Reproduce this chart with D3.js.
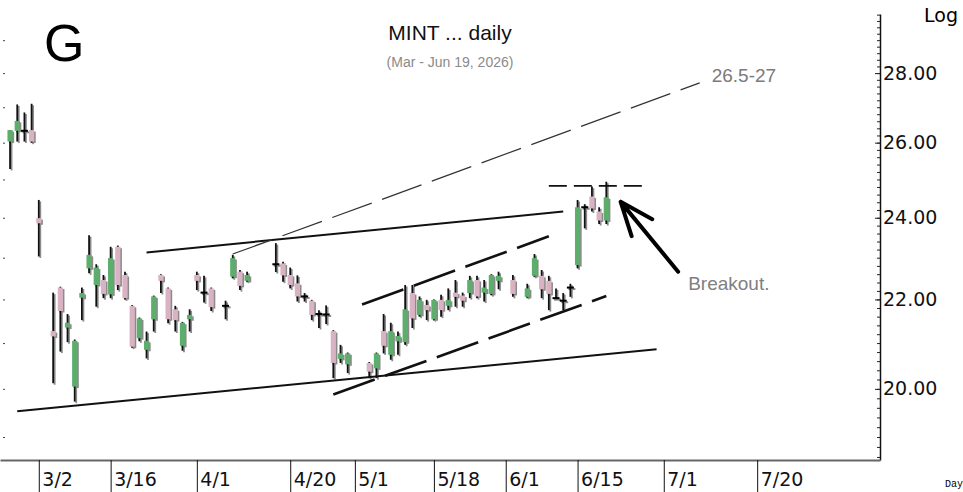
<!DOCTYPE html>
<html>
<head>
<meta charset="utf-8">
<script src="https://cdn.jsdelivr.net/npm/d3@7"></script>
<style>
  body { margin: 0; background: #fff; }
  svg { display: block; }
</style>
</head>
<body>
<div id="chart"></div>
<script>
// Daily bars (weekdays only, some days have no bar)
const dates = [
  "2026-02-24", "2026-02-25", "2026-02-26", "2026-02-27", "2026-03-02", "2026-03-04", "2026-03-05", "2026-03-06",
  "2026-03-09", "2026-03-10", "2026-03-11", "2026-03-12", "2026-03-13", "2026-03-16", "2026-03-17", "2026-03-18",
  "2026-03-19", "2026-03-20", "2026-03-23", "2026-03-24", "2026-03-25", "2026-03-26", "2026-03-27", "2026-03-30",
  "2026-03-31", "2026-04-01", "2026-04-02", "2026-04-03", "2026-04-07", "2026-04-08", "2026-04-09", "2026-04-10",
  "2026-04-16", "2026-04-17", "2026-04-20", "2026-04-21", "2026-04-22", "2026-04-23", "2026-04-24", "2026-04-27",
  "2026-04-28", "2026-04-29", "2026-04-30", "2026-05-05", "2026-05-06", "2026-05-07", "2026-05-08", "2026-05-11",
  "2026-05-12", "2026-05-13", "2026-05-14", "2026-05-15", "2026-05-18", "2026-05-19", "2026-05-20", "2026-05-21",
  "2026-05-22", "2026-05-25", "2026-05-26", "2026-05-27", "2026-05-28", "2026-05-29", "2026-06-02", "2026-06-04",
  "2026-06-05", "2026-06-08", "2026-06-09", "2026-06-10", "2026-06-11", "2026-06-12", "2026-06-15", "2026-06-16",
  "2026-06-17", "2026-06-18", "2026-06-19"
];
const opens = [
  26.03, 26.33, 26.34, 26.35, 23.99, 21.27, 22.28, 21.35,
  20.05, 22.04, 22.74, 22.34, 22.46, 22.12, 23.27, 22.58,
  21.85, 21.11, 20.85, 21.54, 22.58, 22.26, 21.77, 20.94,
  21.54, 22.58, 22.17, 22.26, 21.86, 22.54, 22.66, 22.44,
  22.85, 22.86, 22.58, 22.38, 22.08, 21.97, 21.67, 21.66,
  21.27, 20.65, 20.53, 20.56, 20.44, 21.27, 20.74, 21.04,
  21.02, 22.15, 21.64, 21.87, 21.54, 21.99, 21.85, 22.16,
  22.09, 22.15, 22.46, 22.16, 22.13, 22.44, 22.46, 22.06,
  22.56, 22.56, 22.44, 22.04, 21.98, 22.29, 22.82, 24.28,
  24.55, 24.16, 23.93
];
const highs = [
  26.35, 27.08, 26.85, 27.10, 24.46, 22.16, 22.30, 21.66,
  21.08, 22.28, 23.56, 22.84, 22.58, 23.27, 23.30, 22.66,
  21.87, 21.58, 21.26, 22.09, 22.60, 22.28, 21.85, 21.48,
  21.77, 22.66, 22.56, 22.28, 21.97, 23.07, 22.70, 22.66,
  23.36, 22.90, 22.76, 22.57, 22.15, 21.99, 21.75, 21.86,
  21.29, 20.96, 20.79, 20.58, 20.79, 21.66, 21.46, 21.26,
  22.34, 22.34, 22.07, 21.99, 22.00, 22.11, 22.26, 22.46,
  22.16, 22.56, 22.56, 22.46, 22.60, 22.66, 22.58, 22.37,
  23.09, 22.70, 22.56, 22.26, 22.15, 22.37, 24.46, 24.35,
  24.81, 24.27, 24.94
];
const lows = [
  25.28, 26.03, 26.03, 26.00, 23.03, 20.12, 20.81, 21.02,
  19.73, 21.52, 22.62, 21.83, 22.03, 22.03, 22.22, 22.00,
  20.90, 21.04, 20.66, 21.26, 22.15, 21.45, 21.26, 20.83,
  21.26, 22.22, 21.93, 21.73, 21.54, 22.50, 22.22, 22.42,
  22.65, 22.42, 22.26, 21.95, 21.95, 21.52, 21.34, 21.43,
  20.23, 20.56, 20.34, 20.23, 20.23, 20.77, 20.63, 20.74,
  20.96, 21.34, 21.60, 21.52, 21.52, 21.60, 21.75, 21.83,
  21.83, 22.03, 22.03, 21.95, 22.10, 22.24, 22.06, 22.04,
  22.54, 22.03, 21.75, 22.02, 21.75, 22.06, 22.74, 23.73,
  24.16, 23.84, 23.84
];
const closes = [
  26.35, 26.61, 26.33, 26.03, 23.86, 21.15, 21.73, 21.46,
  21.05, 22.15, 23.07, 22.76, 22.13, 22.99, 22.34, 22.03,
  20.92, 21.56, 21.05, 22.07, 22.44, 21.54, 21.52, 21.46,
  21.64, 22.44, 22.16, 21.82, 21.85, 22.99, 22.32, 22.58,
  22.84, 22.57, 22.34, 22.07, 22.07, 21.64, 21.66, 21.65,
  20.56, 20.77, 20.77, 20.37, 20.77, 20.94, 21.27, 21.16,
  21.77, 21.56, 21.99, 21.75, 21.99, 21.75, 21.99, 22.06,
  21.97, 22.46, 22.07, 22.28, 22.58, 22.56, 22.13, 22.26,
  22.99, 22.24, 22.13, 22.03, 21.97, 22.28, 24.27, 24.27,
  24.24, 23.93, 24.53
];

const tickDates = ["2026-03-02", "2026-03-16", "2026-04-01", "2026-04-20", "2026-05-01",
                   "2026-05-18", "2026-06-01", "2026-06-15", "2026-07-01", "2026-07-20"];
const tickLabels = ["3/2", "3/16", "4/1", "4/20", "5/1", "5/18", "6/1", "6/15", "7/1", "7/20"];
const priceLabels = [20, 22, 24, 26, 28];

// Hand drawn study lines, as [date, price] end points
const supportLine = [["2026-02-25", 19.53], ["2026-06-30", 20.86]];
const resistanceLine = [["2026-03-23", 23.13], ["2026-06-11", 24.16]];
const channelTop = [["2026-05-04", 21.88], ["2026-06-09", 23.53]];
const channelBottom = [["2026-04-28", 19.88], ["2026-06-19", 22.08]];
const targetLine = [["2026-04-08", 23.09], ["2026-07-08", 27.71]];
const breakoutLevel = [["2026-06-09", 24.83], ["2026-06-26", 24.83]];
const arrowLine = [["2026-07-03", 22.66], ["2026-06-23", 24.41]];

const width = 963, height = 492;
const plot = {left: 0, right: 880, top: 14, bottom: 460};

const parseDate = d3.utcParse("%Y-%m-%d");
const origin = parseDate("2026-02-23");

// Trading day index: count weekdays only from a Monday
function dayIndex(s) {
  const d = parseDate(s);
  return d3.utcMonday.count(origin, d) * 5 + (d.getUTCDay() - 1);
}

const x = d3.scaleLinear().domain([-0.4, 122.1]).range([plot.left, plot.right]);
const y = d3.scaleLog().domain([18.54, 29.82]).range([plot.bottom, plot.top]);

const bars = dates.map((d, i) => ({
  i: dayIndex(d), o: opens[i], h: highs[i], l: lows[i], c: closes[i]
}));

const svg = d3.select("#chart").append("svg")
  .attr("width", width)
  .attr("height", height)
  .style("font-family", "'Liberation Sans', Arial, sans-serif");

// Titles
svg.append("text")
  .attr("x", 44).attr("y", 61)
  .attr("font-size", 52)
  .text("G");

svg.append("text")
  .attr("x", 450).attr("y", 40)
  .attr("text-anchor", "middle")
  .attr("font-size", 21)
  .attr("fill", "#111")
  .text("MINT ... daily");

svg.append("text")
  .attr("x", 450).attr("y", 67)
  .attr("text-anchor", "middle")
  .attr("font-size", 14)
  .attr("fill", "#8a8a8a")
  .text("(Mar - Jun 19, 2026)");

svg.append("text")
  .attr("x", 924).attr("y", 22)
  .attr("font-family", "'DejaVu Sans', sans-serif")
  .attr("font-size", 19)
  .text("Log");

svg.append("text")
  .attr("x", 945).attr("y", 487)
  .attr("font-family", "'Liberation Mono', monospace")
  .attr("font-size", 10)
  .text("Day");

// Tiny price marks on the left edge, one per dollar
const dollarMarks = d3.range(19, 30);
svg.append("g")
  .attr("transform", "translate(3,0)")
  .call(d3.axisRight(y).tickValues(dollarMarks).tickSize(2).tickFormat("").tickSizeOuter(0))
  .call(g => g.select(".domain").remove())
  .call(g => g.selectAll("line").attr("stroke", "#444"));

// Right price axis, minor marks every 0.20
const minorMarks = d3.range(18.6, 29.81, 0.2).map(v => +v.toFixed(1));
svg.append("g")
  .attr("transform", `translate(${plot.right},0)`)
  .call(d3.axisRight(y).tickValues(minorMarks).tickSize(-3).tickFormat("").tickSizeOuter(0))
  .call(g => g.select(".domain").attr("stroke", "#111").attr("stroke-width", 1.5))
  .call(g => g.selectAll("line").attr("stroke", "#222"));

svg.append("g")
  .attr("transform", `translate(${plot.right},0)`)
  .call(d3.axisRight(y).tickValues(priceLabels).tickSize(-5).tickPadding(3)
    .tickFormat(d3.format(".2f")).tickSizeOuter(0))
  .call(g => g.select(".domain").remove())
  .call(g => g.selectAll("line").attr("stroke", "#222"))
  .call(g => g.selectAll("text")
    .attr("font-family", "'DejaVu Sans', sans-serif")
    .attr("font-size", 19)
    .attr("fill", "#111"));

// Date axis: dividers below the plot with labels to their right
svg.append("g")
  .attr("transform", `translate(0,${plot.bottom})`)
  .call(d3.axisBottom(x).tickValues(tickDates.map(dayIndex)).tickSize(height - plot.bottom)
    .tickFormat((d, i) => tickLabels[i]).tickSizeOuter(0))
  .call(g => g.select(".domain").attr("stroke", "#666").attr("stroke-width", 2))
  .call(g => g.selectAll("line").attr("stroke", "#111"))
  .call(g => g.selectAll("text")
    .attr("text-anchor", "start")
    .attr("x", 3)
    .attr("y", 26)
    .attr("dy", null)
    .attr("font-family", "'DejaVu Sans', sans-serif")
    .attr("font-size", 19)
    .attr("fill", "#111"));

// Candles
const upColor = "#5dae6c";
const downColor = "#d9b3c3";
const bw = 5.2;
const kind = d => d.c > d.o + 0.02 ? "up" : (d.c < d.o - 0.02 ? "down" : "doji");

function drawCandles(layer, dx, shadow) {
  const g = layer.selectAll("g")
    .data(bars)
    .join("g")
    .attr("transform", d => `translate(${x(d.i) + dx},${dx})`);

  g.append("line")
    .attr("y1", d => y(d.h))
    .attr("y2", d => y(d.l))
    .attr("stroke", shadow ? "#000" : "#111")
    .attr("stroke-width", 1.8);

  g.filter(d => kind(d) !== "doji").append("rect")
    .attr("x", -bw / 2)
    .attr("width", bw)
    .attr("y", d => Math.min(y(d.o), y(d.c)))
    .attr("height", d => Math.max(Math.abs(y(d.o) - y(d.c)), 1))
    .attr("fill", d => shadow ? "#000" : (kind(d) === "up" ? upColor : downColor));

  g.filter(d => kind(d) === "doji").append("rect")
    .attr("x", -3.5)
    .attr("width", 7)
    .attr("y", d => y(d.c) - 1)
    .attr("height", 2)
    .attr("fill", "#000");
}

const shadowLayer = svg.append("g").attr("opacity", 0.45);
drawCandles(shadowLayer, 1.5, true);
drawCandles(svg.append("g"), 0, false);

// Study lines
const line = d3.line().x(p => x(dayIndex(p[0]))).y(p => y(p[1]));

function study(points, w, color, dash) {
  svg.append("path")
    .attr("d", line(points))
    .attr("fill", "none")
    .attr("stroke", color)
    .attr("stroke-width", w)
    .attr("stroke-dasharray", dash)
    .attr("stroke-linecap", "butt");
}

study(supportLine, 2, "#111", null);
study(resistanceLine, 2, "#111", null);
study(channelTop, 2.6, "#111", "44,11");
study(channelBottom, 2.6, "#111", "44,11");
study(targetLine, 1.2, "#333", "42,11");
study(breakoutLevel, 1.8, "#111", "18,7");

// Arrow pointing at the breakout
const tail = [x(dayIndex(arrowLine[0][0])), y(arrowLine[0][1])];
const tip = [x(dayIndex(arrowLine[1][0])), y(arrowLine[1][1])];
const ang = Math.atan2(tail[1] - tip[1], tail[0] - tip[0]);
const headLen = 36, spread = 0.38;
const head = [-1, 1].map(s => [tip[0] + headLen * Math.cos(ang + s * spread),
                                tip[1] + headLen * Math.sin(ang + s * spread)]);

svg.append("path")
  .attr("d", d3.line()([tail, tip]) + d3.line()([head[0], tip, head[1]]))
  .attr("fill", "none")
  .attr("stroke", "#000")
  .attr("stroke-width", 4)
  .attr("stroke-linecap", "round")
  .attr("stroke-linejoin", "round");

svg.append("text")
  .attr("x", tail[0] + 10).attr("y", tail[1] + 18)
  .attr("font-size", 19)
  .attr("fill", "#808080")
  .text("Breakout.");

const targetEnd = targetLine[1];
svg.append("text")
  .attr("x", x(dayIndex(targetEnd[0])) + 12).attr("y", y(targetEnd[1]) - 1)
  .attr("font-size", 19)
  .attr("fill", "#7a7a7a")
  .text("26.5-27");
</script>
</body>
</html>
